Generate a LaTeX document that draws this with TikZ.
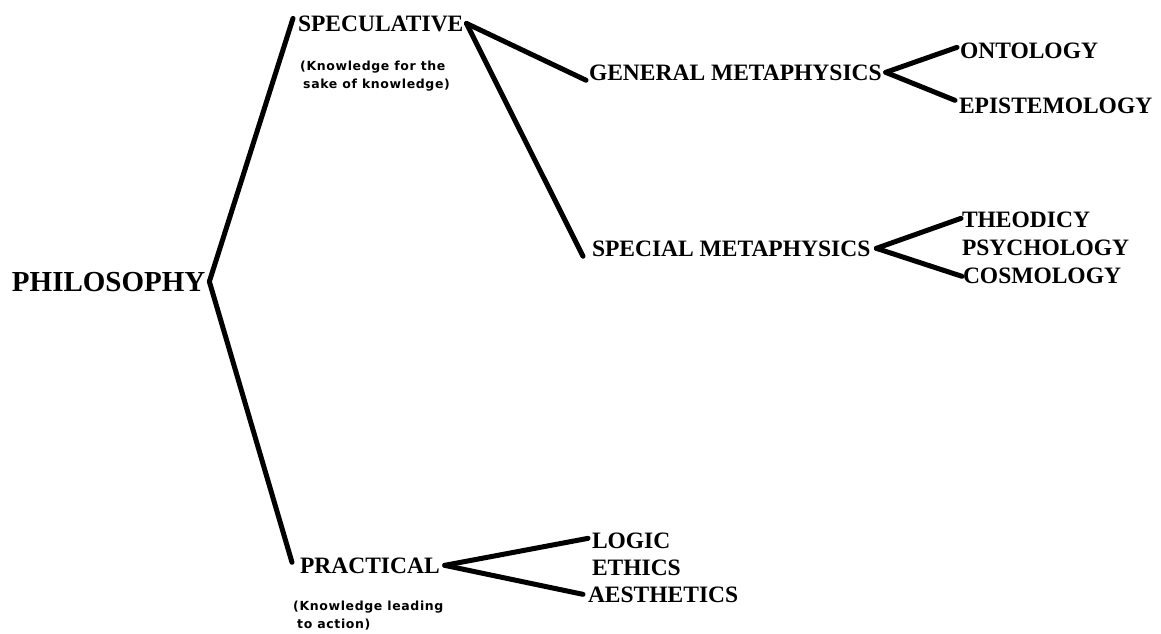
\documentclass[tikz,border=0pt]{standalone}
\usepackage{fontspec}
\setmainfont{Liberation Serif}
\newfontfamily\notefont[LetterSpace=5.0]{DejaVu Sans}
\begin{document}
\begin{tikzpicture}[x=1pt,y=-1pt,
  lbl/.style={font=\bfseries\fontsize{23.5}{28}\selectfont, inner sep=0pt, outer sep=0pt, anchor=base west},
  big/.style={lbl, font=\bfseries\fontsize{29}{34}\selectfont},
  note/.style={font=\notefont\bfseries\fontsize{12.5}{18}\selectfont, inner sep=0pt, anchor=base west},
  link/.style={line width=5pt, line cap=round, line join=round}]
\useasboundingbox[fill=white] (0,0) rectangle (1161,633);

% labels
\node[big] (phil) at (12,291) {PHILOSOPHY};
\node[lbl] (spec) at (298,31) {SPECULATIVE};
\node[lbl] (prac) at (300,573) {PRACTICAL};
\node[lbl] (gen) at (589,80) {GENERAL METAPHYSICS};
\node[lbl] (spm) at (592,256) {SPECIAL METAPHYSICS};
\node[lbl] (ont) at (960,58) {ONTOLOGY};
\node[lbl] (epi) at (959,113) {EPISTEMOLOGY};
\node[lbl] (theo) at (962,227) {THEODICY};
\node[lbl] (psy) at (962,255) {PSYCHOLOGY};
\node[lbl] (cosmo) at (963,283) {COSMOLOGY};
\node[lbl] (logic) at (592,548) {LOGIC};
\node[lbl] (ethics) at (592,575) {ETHICS};
\node[lbl] (aest) at (588,602) {AESTHETICS};

% notes
\node[note] (n1a) at (300,70) {(Knowledge for the};
\node[note] (n1b) at (303,88) {sake of knowledge)};
\node[note] (n2a) at (293,610) {(Knowledge leading};
\node[note] (n2b) at (297,628) {to action)};

% connectors
\draw[link] ([xshift=4pt]phil.east) -- ([xshift=-5pt,yshift=5pt]spec.west);
\draw[link] ([xshift=4pt]phil.east) -- ([xshift=-8pt,yshift=3pt]prac.west);
\draw[link] ([xshift=3pt]spec.east) -- ([xshift=-3pt]gen.south west);
\draw[link] ([xshift=3pt]spec.east) -- ([xshift=-9pt]spm.south west);
\draw[link] ([xshift=4pt]gen.east) -- ([xshift=-3pt,yshift=3pt]ont.west);
\draw[link] ([xshift=4pt]gen.east) -- ([xshift=-4pt,yshift=5pt]epi.west);
\draw[link] ([xshift=6pt]spm.east) -- ([xshift=-1pt,yshift=1pt]theo.west);
\draw[link] ([xshift=6pt]spm.east) -- ([xshift=-1pt,yshift=-1pt]cosmo.west);
\draw[link] ([xshift=5pt]prac.east) -- ([xshift=-4pt,yshift=2pt]logic.west);
\draw[link] ([xshift=5pt]prac.east) -- ([xshift=-5pt]aest.west);
\end{tikzpicture}
\end{document}
